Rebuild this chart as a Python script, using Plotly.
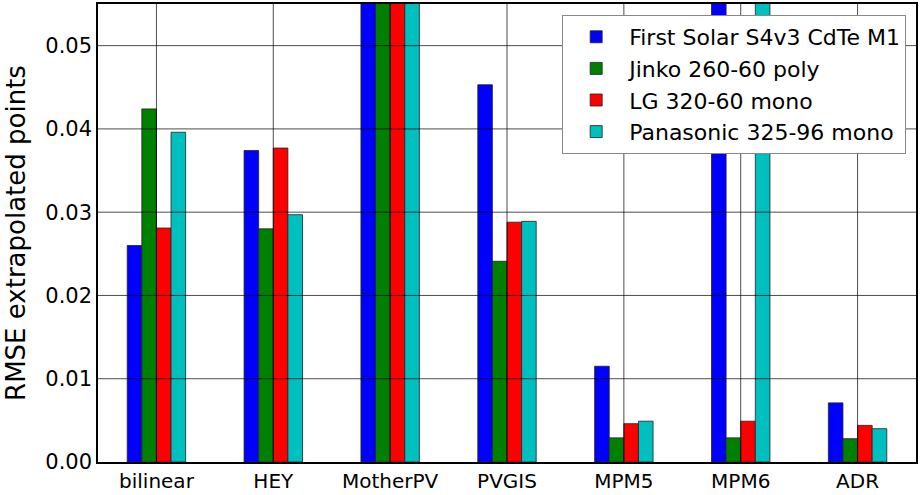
import plotly.graph_objects as go

categories = ["bilinear", "HEY", "MotherPV", "PVGIS", "MPM5", "MPM6", "ADR"]
series_names = ["First Solar S4v3 CdTe M1", "Jinko 260-60 poly",
                "LG 320-60 mono", "Panasonic 325-96 mono"]
first_solar = [0.0260, 0.0374, 0.080, 0.0453, 0.0115, 0.080, 0.0071]
jinko = [0.0424, 0.0280, 0.080, 0.0241, 0.0029, 0.0029, 0.0028]
lg = [0.0281, 0.0377, 0.080, 0.0288, 0.0046, 0.0049, 0.0044]
panasonic = [0.0396, 0.0297, 0.080, 0.0289, 0.0049, 0.080, 0.0040]
colors = ["#0000ff", "#008000", "#ff0000", "#00bfbf"]
y_ticks = [0.0, 0.01, 0.02, 0.03, 0.04, 0.05]
y_tick_labels = ["0.00", "0.01", "0.02", "0.03", "0.04", "0.05"]

fig = go.Figure()
for i, (name, vals, col) in enumerate(zip(series_names, [first_solar, jinko, lg, panasonic], colors)):
    fig.add_trace(go.Bar(x=categories, y=vals, name=name, legendgroup=f"g{i}",
                         marker=dict(color=col, line=dict(color="#222222", width=0.8))))

shapes = []
for yv in y_ticks[1:]:
    shapes.append(dict(type="line", xref="paper", yref="y", x0=0, x1=1, y0=yv, y1=yv,
                       line=dict(color="rgba(0,0,0,0.7)", width=1), layer="above"))
for c in categories:
    shapes.append(dict(type="line", xref="x", yref="paper", x0=c, x1=c, y0=0, y1=1,
                       line=dict(color="rgba(0,0,0,0.7)", width=1), layer="above"))

fig.update_layout(
    width=920, height=495,
    margin=dict(l=98, r=2, t=3, b=30),
    paper_bgcolor="white", plot_bgcolor="white",
    barmode="group", bargap=0.5, bargroupgap=0,
    font=dict(family="DejaVu Sans", size=20, color="black"),
    shapes=shapes,
    showlegend=True,
    legend=dict(x=0.988, xanchor="right", y=0.976, yanchor="top",
                bgcolor="white", bordercolor="#888888", borderwidth=1,
                font=dict(size=22), tracegroupgap=0, itemwidth=56),
    xaxis=dict(range=[-0.5, 6.5], showgrid=False, showline=True, linecolor="black",
               linewidth=1.5, mirror=True, ticks="", tickfont=dict(size=20)),
    yaxis=dict(range=[0, 0.055], tickvals=y_ticks, ticktext=y_tick_labels,
               showgrid=False, showline=True, linecolor="black", linewidth=1.5,
               mirror=True, ticks="", zeroline=False, tickfont=dict(size=21),
               title=dict(text="RMSE extrapolated points", font=dict(size=26), standoff=12)),
)
fig.write_html("out.html", post_script="document.body.style.margin='0';",
               config={"displayModeBar": False})
